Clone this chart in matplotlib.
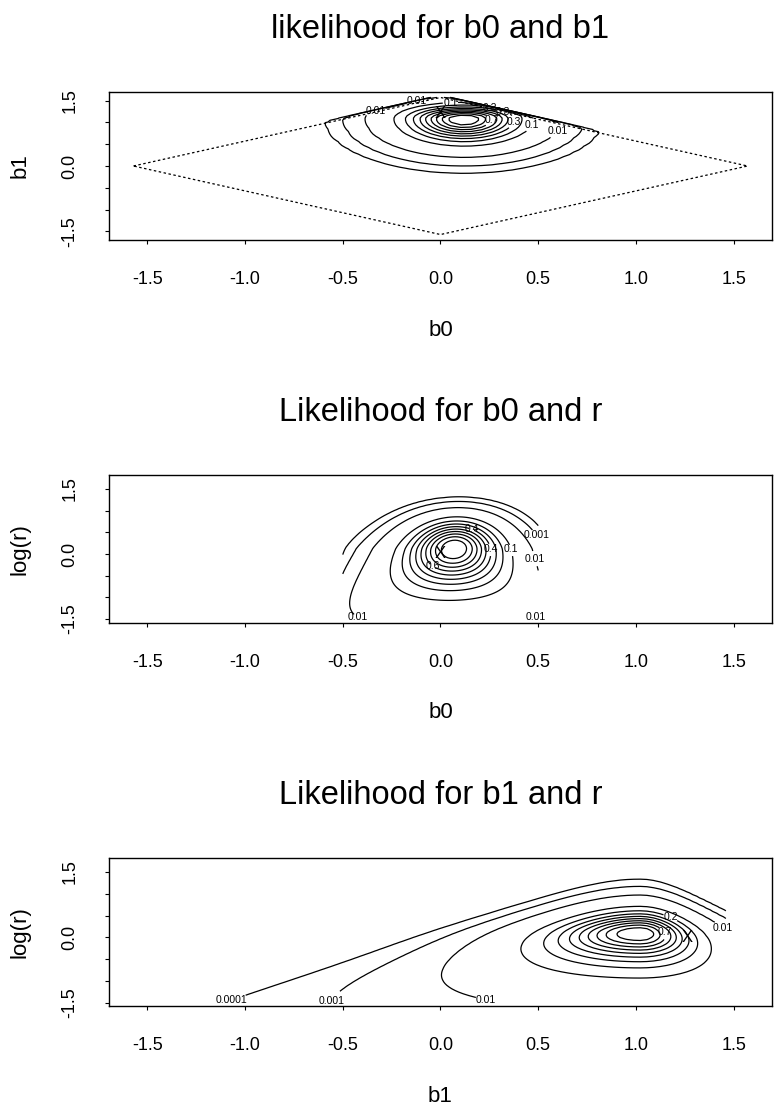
import numpy as np
import matplotlib
matplotlib.use("Agg")
import matplotlib.pyplot as plt

plt.rcParams['font.family'] = ['Liberation Sans', 'DejaVu Sans']

# contour levels of relative likelihood
levels = [0.0001, 0.001, 0.01, 0.1, 0.2, 0.3, 0.4, 0.5, 0.6, 0.7, 0.8, 0.9]

titles = ["likelihood for b0 and b1", "Likelihood for b0 and r", "Likelihood for b1 and r"]
xlabels = ["b0", "b0", "b1"]
ylabels = ["b1", "log(r)", "log(r)"]

# surface shape: mode, spreads
p1_mode = [0.12, 1.08]          # b0, b1
p1_sd = [0.165, 0.29, 0.175]    # b0, b1 below mode, b1 above mode
p2_mode = [0.08, 0.13]          # b0, log(r)
p2_sd = [0.15, 2.5, 0.5]        # b0, log(r) upper shape, log(r) below
p3_mode = [1.02, 0.09]          # b1, log(r)
p3_sd = [0.256, 0.29, 0.34]     # b1 (left side), log(r) above, log(r) below

# grids
half_pi = np.pi / 2
p2_b0_range = [-0.5, 0.5]
p3_b1_range = [-half_pi, 1.46]
logr_range = [-1.45, 1.69]

# true values marked with "X"
mark_x = [0.0, 0.0, 1.26]
mark_y = [1.2, 0.0, 0.0]

# manual label spots
lab1 = [(-0.33, 1.22), (-0.12, 1.43), (0.05, 1.5), (0.25, 1.33), (0.32, 1.24),
        (0.45, 0.97), (0.6, 0.82), (0.27, 1.04), (0.38, 1.0)]
lab2 = [(0.49, 0.44), (0.5, 0.1), (-0.4, -1.4), (0.47, -1.4), (0.16, 0.6),
        (-0.04, -0.3), (0.36, 0.08), (0.26, 0.14)]
lab3 = [(-1.07, -1.44), (-0.57, -1.44), (0.23, -1.44), (1.43, 0.12),
        (1.18, 0.5), (1.14, 0.1)]


def ph(u, c):
    return c * c * (np.sqrt(1 + (u / c) ** 2) - 1)


def surface1():
    b0 = np.linspace(-half_pi, half_pi, 61)
    b1 = np.linspace(-half_pi, half_pi, 61)
    X, Y = np.meshgrid(b0, b1)
    sdy = np.where(Y > p1_mode[1], p1_sd[2], p1_sd[1])
    l = -0.5 * ((X - p1_mode[0]) / p1_sd[0]) ** 2 - 0.5 * ((Y - p1_mode[1]) / sdy) ** 2
    L = np.exp(l - l.max())
    L[np.abs(X) + np.abs(Y) > half_pi] = 0
    return X, Y, L


def surface2():
    b0 = np.linspace(p2_b0_range[0], p2_b0_range[1], 81)
    s = np.linspace(logr_range[0], logr_range[1], 81)
    X, Y = np.meshgrid(b0, s)
    d = Y - p2_mode[1]
    n = p2_sd[1]
    g = np.where(d > 0, n * d - n / 2 * (np.exp(2 * d) - 1), -ph(d / p2_sd[2], 2.2))
    w = np.where(d < 0, np.exp(0.5 * d - 0.4 * d * d), np.exp(0.8 * d))
    m = p2_mode[0] + 0.025 * d
    a = np.where(X < 0, 0.52, 0.55)
    pen = np.log(1 - (X / a) ** 2)
    l = g - w * (0.5 * ((X - m) / p2_sd[0]) ** 2 - pen)
    L = np.exp(l - l.max())
    return X, Y, L


def surface3():
    b1 = np.linspace(p3_b1_range[0], p3_b1_range[1], 91)
    s = np.linspace(logr_range[0], logr_range[1], 81)
    X, Y = np.meshgrid(b1, s)
    d = Y - p3_mode[1]
    sdl = p3_sd[0] * np.exp(-0.6 * d)
    sd = np.where(X < p3_mode[0], sdl, 0.6 * sdl)
    g = np.where(d > 0, -0.5 * (d / p3_sd[1]) ** 2, -ph(d / p3_sd[2], 1.1))
    l = g - 0.5 * ((X - p3_mode[0]) / sd) ** 2
    L = np.exp(l - l.max())
    return X, Y, L


fig = plt.figure(figsize=(7.74, 11.06), dpi=100)
W, H = 774.0, 1106.0
left, right = 109, 772
tops = [92, 475, 858]
bottoms = [240, 623, 1006]
ylims = [(-1.696, 1.696), (-1.59, 1.82), (-1.57, 1.82)]
surfaces = [surface1(), surface2(), surface3()]
labspots = [lab1, lab2, lab3]

ticks = [-1.5, -1.0, -0.5, 0.0, 0.5, 1.0, 1.5]
fmt = lambda v: f"{v:g}"

for i in range(3):
    ax = fig.add_axes([left / W, 1 - bottoms[i] / H, (right - left) / W, (bottoms[i] - tops[i]) / H])
    X, Y, L = surfaces[i]
    cs = ax.contour(X, Y, L, levels=levels, colors='k', linewidths=0.9)
    txts = ax.clabel(cs, levels, fmt=fmt, fontsize=7.5, inline=True, inline_spacing=1,
                     manual=labspots[i])
    for t in txts:
        t.set_rotation(0)
    if i == 0:
        ax.plot([-half_pi, 0, half_pi, 0, -half_pi], [0, half_pi, 0, -half_pi, 0],
                color='k', lw=0.9, linestyle=(0, (2, 2)))
    ax.text(mark_x[i], mark_y[i], "X", ha='center', va='center', fontsize=12)

    ax.set_xlim(-1.696, 1.696)
    ax.set_ylim(*ylims[i])
    ax.set_xticks(ticks)
    ax.set_xticklabels([f"{t:.1f}" for t in ticks])
    ax.set_yticks(ticks)
    ax.set_yticklabels([f"{t:.1f}" if t in (-1.5, 0.0, 1.5) else "" for t in ticks],
                       rotation=90, va='center')
    ax.tick_params(direction='out', length=3, width=0.8, labelsize=13, pad=19)
    for sp in ax.spines.values():
        sp.set_linewidth(1.0)

    h = bottoms[i] - tops[i]
    ax.set_xlabel(xlabels[i], fontsize=16, va='center')
    ax.xaxis.set_label_coords(0.5, -90.0 / h)
    ax.set_ylabel(ylabels[i], fontsize=16, va='center')
    ax.yaxis.set_label_coords((20 - left) / (right - left), 0.5)
    ax.text(0.5, 1 + 62.0 / h, titles[i], transform=ax.transAxes,
            ha='center', va='center', fontsize=23.5)

fig.savefig("out.png", dpi=100)
